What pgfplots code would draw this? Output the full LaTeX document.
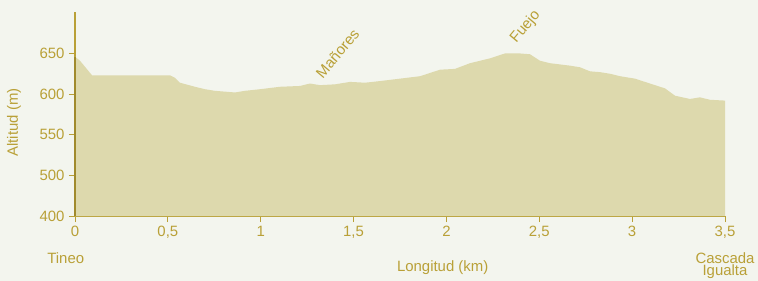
\documentclass[border=0pt]{standalone}
\usepackage{pgfplots}
\pgfplotsset{compat=1.18}
\usepackage{fontspec}
\setmainfont{Liberation Sans}
\definecolor{bg}{RGB}{243,245,238}
\definecolor{fillc}{RGB}{221,217,173}
\definecolor{gold}{RGB}{185,160,55}
\definecolor{darkgold}{RGB}{160,138,45}
\begin{document}
\begin{tikzpicture}
\path[use as bounding box, fill=bg] (-75bp,-65bp) rectangle (683bp,216bp);
\begin{axis}[
  scale only axis, width=650bp, height=204bp,
  anchor=south west, at={(0,0)},
  xmin=0, xmax=3.5, ymin=450, ymax=701,
  axis x line=bottom, axis y line=left,
  axis line style={gold, line width=1.2pt, -},
  xtick={0,0.5,1,1.5,2,2.5,3,3.5},
  xticklabels={0,{0,5},1,{1,5},2,{2,5},3,{3,5}},
  ytick={450,500,550,600,650},
  yticklabels={400,500,550,600,650},
  tick align=outside, major tick length=6bp,
  tick style={gold, line width=1pt},
  tick label style={font=\fontsize{15}{17}\selectfont, text=gold},
  /pgf/number format/assume math mode=true,
  xticklabel style={yshift=-1bp},
  yticklabel style={xshift=-1bp},
  clip=false,
]
\addplot[fill=fillc, draw=none] coordinates {
(0,646) (0.027,641) (0.092,623) (0.512,623) (0.538,620) (0.565,614) (0.646,609)
(0.70,606) (0.754,604) (0.808,603) (0.862,602) (0.915,604) (0.996,606) (1.104,609)
(1.212,610) (1.265,613) (1.319,611) (1.40,612) (1.481,615) (1.562,614) (1.642,616)
(1.75,619) (1.858,622) (1.912,626) (1.965,630) (2.046,631) (2.127,638) (2.235,644)
(2.315,650) (2.396,650) (2.45,649) (2.504,641) (2.558,638) (2.665,635) (2.719,633)
(2.773,628) (2.827,627) (2.881,625) (2.935,622) (3.015,619) (3.096,613) (3.177,607)
(3.231,598) (3.311,594) (3.365,596) (3.419,593) (3.5,592)
} \closedcycle;
\draw[darkgold, line width=1.2pt] (axis cs:0,450) -- (axis cs:0,646);
\node[rotate=50, anchor=south west, text=gold, font=\fontsize{15}{17}\selectfont, inner sep=0pt] at (axis cs:1.335,618) {Mañores};
\node[rotate=50, anchor=south west, text=gold, font=\fontsize{15}{17}\selectfont, inner sep=0pt] at (axis cs:2.39,659) {Fuejo};
\node[anchor=north, text=gold, font=\fontsize{15}{17}\selectfont, inner sep=0pt] at (axis cs:-0.05,450) [yshift=-36bp] {Tineo};
\node[anchor=north, text=gold, font=\fontsize{15}{17}\selectfont, inner sep=0pt] at (axis cs:1.98,450) [yshift=-44bp] {Longitud (km)};
\node[anchor=north, text=gold, font=\fontsize{15}{17}\selectfont, inner sep=0pt, align=center] at (axis cs:3.5,450) [yshift=-36bp] {Cascada\\[-4pt]Igualta};
\node[rotate=90, anchor=center, text=gold, font=\fontsize{15}{17}\selectfont, inner sep=0pt] at ([xshift=-61bp]axis cs:0,565) {Altitud (m)};
\end{axis}
\end{tikzpicture}
\end{document}
